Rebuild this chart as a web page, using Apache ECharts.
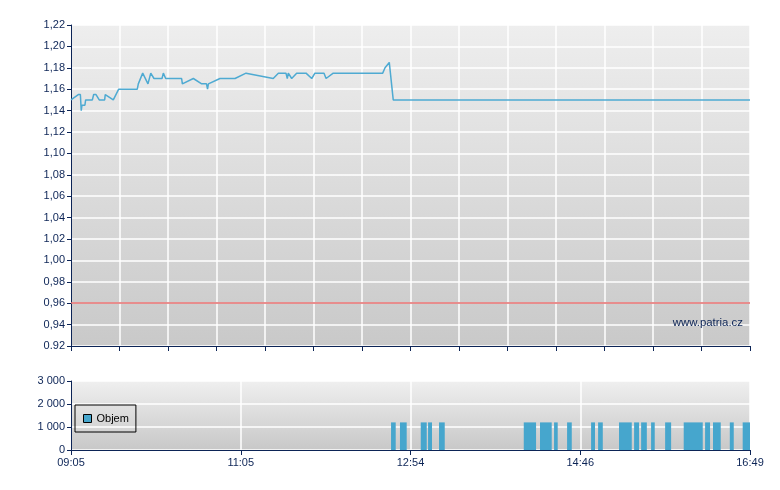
<!DOCTYPE html>
<html><head><meta charset="utf-8">
<script src="https://cdn.jsdelivr.net/npm/echarts@6/dist/echarts.min.js"></script>
<style>html,body{margin:0;padding:0;background:#fff}#c{width:780px;height:490px}</style>
</head><body><div id="c"></div>
<script>
// Minutes after 09:05 and price
const priceMinutes = [0,   5.0,  6.4,  7.0,  7.5,  9.5,  10.0, 14.6, 15.5, 17.1, 19.3, 23.0, 23.4, 28.9, 32.6, 45.3, 46.0, 49.0, 52.6, 54.5, 56.7, 62.2, 63.1, 64.2, 64.7, 75.6, 76.1, 83.6, 89.3, 92.6, 93.3, 93.9, 101.8,112.1,119.6,138.2,141.7,146.9,147.8,148.5,150.8,154.2,160.6,164.5,166.7,172.9,174.3,179.2,213.0,214.6,217.5,220.2,464];
const priceValues  = [1.150,1.155,1.155,1.140,1.145,1.145,1.150,1.150,1.155,1.155,1.150,1.150,1.155,1.150,1.160,1.160,1.165,1.175,1.165,1.175,1.170,1.170,1.175,1.175,1.170,1.170,1.165,1.170,1.165,1.165,1.160,1.165,1.170,1.170,1.175,1.170,1.175,1.175,1.170,1.175,1.170,1.175,1.175,1.170,1.175,1.175,1.170,1.175,1.175,1.180,1.185,1.150,1.150];
const prevClose = 0.96;
// Volume blocks: start minute, end minute, volume
const volStart = [218.7,224.8,239.0,244.0,251.5,309.4,320.5,330.1,339.0,355.4,360.2,374.5,384.8,389.6,396.4,406.0,418.7,433.3,438.7,450.2,459.0];
const volEnd   = [221.9,229.4,243.1,246.7,255.4,317.8,328.5,332.6,342.2,358.1,363.4,383.2,388.2,393.5,398.9,410.1,431.7,436.7,444.0,452.9,464.0];
const volValue = [1200,1200,1200,1200,1200,1200,1200,1200,1200,1200,1200,1200,1200,1200,1200,1200,1200,1200,1200,1200,1200];
const xTickLabels = ['09:05','11:05','12:54','14:46','16:49'];
const priceTickLabels = ['0.92','0,94','0,96','0,98','1,00','1,02','1,04','1,06','1,08','1,10','1,12','1,14','1,16','1,18','1,20','1,22'];
const volTickLabels = ['0','1 000','2 000','3 000'];
const totalMinutes = 464;
</script>
<script>
const priceData = priceMinutes.map((m,i)=>[m,priceValues[i]]);
const volData = volStart.map((s,i)=>[s,volEnd[i],volValue[i]]);

const navy = '#0c2456';
const font = 'Liberation Sans';
const chart = echarts.init(document.getElementById('c'), null, {renderer:'canvas'});
const grad = (a,b)=>new echarts.graphic.LinearGradient(0,0,0,1,[{offset:0,color:a},{offset:1,color:b}]);
chart.setOption({
  animation:false,
  textStyle:{fontFamily:font},
  title:{text:'www.patria.cz', right:32, top:312, textStyle:{fontSize:11.4, fontWeight:'normal', color:navy, fontFamily:font}},
  grid:[
    {left:71, top:25, width:679, height:321, show:true, borderWidth:0, backgroundColor:grad('#eeeeee','#c9c9c9')},
    {left:71, top:381, width:679, height:69, show:true, borderWidth:0, backgroundColor:grad('#efefef','#c8c8c8')}
  ],
  legend:{
    data:[{name:'Objem', itemStyle:{color:'#46a6cd', borderColor:'#000', borderWidth:1}}],
    left:75, top:405, orient:'vertical',
    borderColor:'#000', borderWidth:1, padding:[8,7,8,8],
    itemWidth:8, itemHeight:8, itemGap:4,
    textStyle:{fontSize:11, color:'#000', fontFamily:font},
    icon:'rect'
  },
  xAxis:[
    {type:'value', gridIndex:0, min:0, max:totalMinutes, interval:totalMinutes/14,
     axisLine:{show:true, onZero:false, lineStyle:{color:navy}},
     axisTick:{show:true, length:5, lineStyle:{color:navy}},
     axisLabel:{show:false},
     splitLine:{show:true, lineStyle:{color:'#ffffff', width:1.5}}},
    {type:'value', gridIndex:1, min:0, max:totalMinutes, interval:totalMinutes/4,
     axisLine:{show:true, onZero:false, lineStyle:{color:navy}},
     axisTick:{show:true, length:5, lineStyle:{color:navy}},
     axisLabel:{show:true, color:navy, fontSize:11, fontFamily:font, margin:7,
       formatter:v=>xTickLabels[Math.round(v/(totalMinutes/4))]},
     splitLine:{show:true, lineStyle:{color:'#ffffff', width:1.5}}}
  ],
  yAxis:[
    {type:'value', gridIndex:0, min:0.92, max:1.22, interval:0.02,
     axisLine:{show:true, lineStyle:{color:navy}},
     axisTick:{show:true, length:4, lineStyle:{color:navy}},
     axisLabel:{color:navy, fontSize:11, fontFamily:font, margin:6,
       formatter:v=>priceTickLabels[Math.round((v-0.92)/0.02)]},
     splitLine:{show:true, lineStyle:{color:'#ffffff', width:1.5}}},
    {type:'value', gridIndex:1, min:0, max:3000, interval:1000,
     axisLine:{show:true, lineStyle:{color:navy}},
     axisTick:{show:true, length:4, lineStyle:{color:navy}},
     axisLabel:{color:navy, fontSize:11, fontFamily:font, margin:6,
       formatter:v=>volTickLabels[Math.round(v/1000)]},
     splitLine:{show:true, lineStyle:{color:'#ffffff', width:1.5}}}
  ],
  series:[
    {name:'Cena', type:'line', xAxisIndex:0, yAxisIndex:0, data:priceData, showSymbol:false,
     lineStyle:{color:'#4eaad2', width:1.5}, itemStyle:{color:'#4eaad2'},
     markLine:{silent:true, symbol:['none','none'], label:{show:false},
       lineStyle:{color:'#e36b6b', width:1.5, type:'solid'}, data:[{yAxis:prevClose}]}},
    {name:'Objem', type:'custom', xAxisIndex:1, yAxisIndex:1, data:volData,
     encode:{x:[0,1], y:2},
     itemStyle:{color:'#46a6cd'},
     renderItem:(params, api)=>{
       const s = api.coord([api.value(0), api.value(2)]);
       const e = api.coord([api.value(1), 0]);
       return {type:'rect', shape:{x:s[0], y:s[1], width:e[0]-s[0], height:e[1]-s[1]},
               style:{fill:'#46a6cd'}};
     }}
  ]
});
</script>
</body></html>
